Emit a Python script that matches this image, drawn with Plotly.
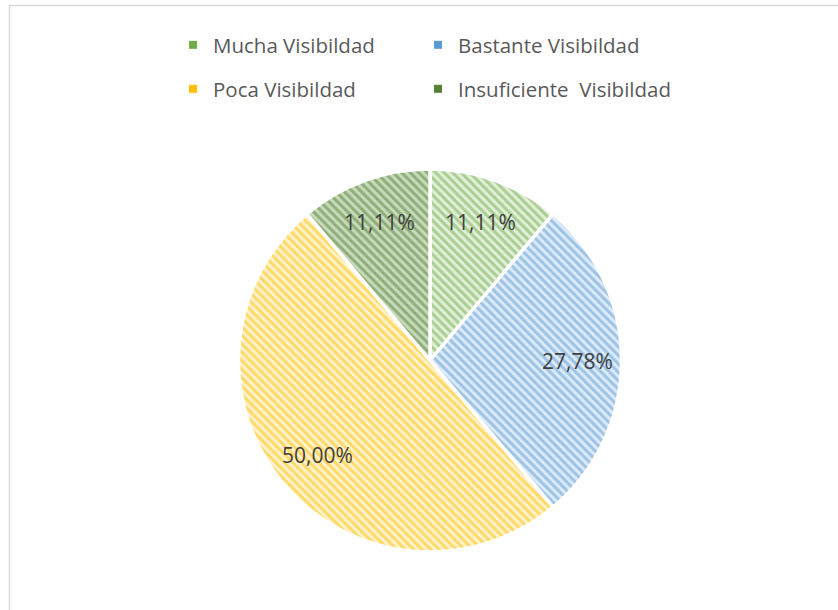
import math
import plotly.graph_objects as go

# datos del gráfico
categorias = ['Mucha Visibildad', 'Bastante Visibildad', 'Poca Visibildad', 'Insuficiente  Visibildad']
porcentajes = [11.11, 27.78, 50.00, 11.11]

colores_linea = ['#70AD47', '#5B9BD5', '#FFC000', '#548235']
colores_fondo = ['#E2EFDA', '#DDEBF7', '#FFF2CC', '#C8DABB']

W, H = 838, 610
FUENTE = 'Open Sans, Lato, sans-serif'

# geometría de la tarta (px)
cx, cy, r = 430, 360.5, 191.5

fig = go.Figure()
fig.add_trace(go.Pie(
    labels=categorias,
    values=porcentajes,
    sort=False,
    direction='clockwise',
    rotation=0,
    textinfo='none',
    showlegend=False,
    marker=dict(
        colors=colores_fondo,
        line=dict(color='white', width=3.5),
        pattern=dict(shape='\\', fgcolor=colores_linea, bgcolor=colores_fondo,
                     size=6, solidity=0.5, fillmode='overlay'),
    ),
    hoverinfo='label+percent',
    domain=dict(x=[(cx - r) / W, (cx + r) / W], y=[1 - (cy + r) / H, 1 - (cy - r) / H]),
))

# etiquetas de datos (posición calculada a partir de los valores, ~0.77 r)
total = sum(porcentajes)
acum = 0
for v in porcentajes:
    ang = (acum + v / 2) / total * 2 * math.pi
    acum += v
    px = cx + 0.77 * r * math.sin(ang)
    py = cy - 0.77 * r * math.cos(ang)
    fig.add_annotation(x=px / W, y=1 - py / H, xref='paper', yref='paper',
                       text=f'{v:.2f}%'.replace('.', ','), showarrow=False,
                       xanchor='center', yanchor='middle',
                       font=dict(family=FUENTE, size=21, color='#404040'))

# leyenda: 2 x 2 (una leyenda por entrada)
pos_leyenda = [(213, 45), (458, 45), (213, 89), (458, 89)]
nombres_leyenda = ['legend', 'legend2', 'legend3', 'legend4']
for cat, col, ley in zip(categorias, colores_linea, nombres_leyenda):
    fig.add_trace(go.Scatter(
        x=[None], y=[None], mode='markers', name=cat, legend=ley,
        marker=dict(symbol='square', size=8, color=col),
        hoverinfo='skip',
    ))

layout_leyendas = {}
for ley, (tx, ty) in zip(nombres_leyenda, pos_leyenda):
    layout_leyendas[ley] = dict(
        x=(tx - 40) / W, xanchor='left',
        y=1 - ty / H, yanchor='middle',
        bgcolor='rgba(0,0,0,0)',
        font=dict(family=FUENTE, size=20.5, color='#595959'),
    )

# marco del área del gráfico
fig.add_shape(type='rect', xref='paper', yref='paper',
              x0=9.5 / W, x1=1.02, y0=-0.02, y1=1 - 5.5 / H,
              line=dict(color='#D9D9D9', width=1.5), fillcolor='rgba(0,0,0,0)')

fig.update_layout(
    width=W, height=H,
    margin=dict(l=0, r=0, t=0, b=0),
    paper_bgcolor='white',
    plot_bgcolor='white',
    separators=',.',
    xaxis=dict(visible=False),
    yaxis=dict(visible=False),
    **layout_leyendas,
)

fig.write_html('out.html', config={'displayModeBar': False},
               post_script="document.body.style.margin='0';")
